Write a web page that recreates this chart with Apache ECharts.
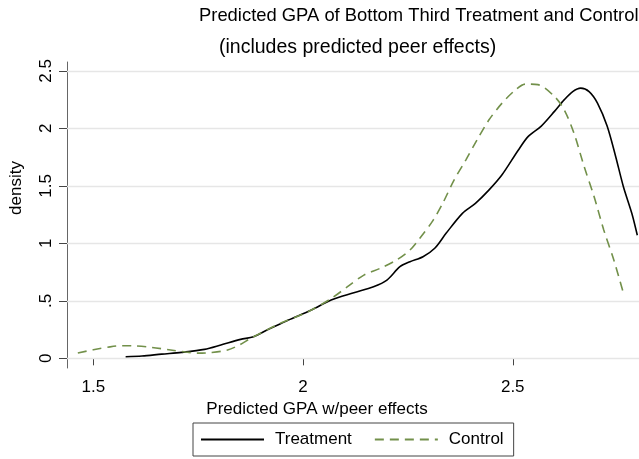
<!DOCTYPE html>
<html>
<head>
<meta charset="utf-8">
<script src="https://cdn.jsdelivr.net/npm/echarts@6/dist/echarts.min.js"></script>
<style>
html,body{margin:0;padding:0;background:#fff;}
#chart{width:639px;height:459px;}
</style>
</head>
<body>
<div id="chart"></div>
<script>
const titleText = 'Predicted GPA of Bottom Third Treatment and Control';
const subtitleText = '(includes predicted peer effects)';
const xAxisTitle = 'Predicted GPA w/peer effects';
const yAxisTitle = 'density';
const seriesNames = ['Treatment', 'Control'];
const xTicks = [1.5, 2, 2.5];
const yTicks = [0, 0.5, 1, 1.5, 2, 2.5];
const yTickLabels = ['0', '.5', '1', '1.5', '2', '2.5'];

const treatmentX = [1.577,1.616,1.663,1.71,1.765,1.804,1.851,1.882,1.914,1.945,1.965,2.02,2.067,2.121,2.168,2.2,2.231,2.255,2.286,2.314,2.341,2.38,2.411,2.443,2.474,2.513,2.537,2.568,2.6,2.623,2.643,2.662,2.682,2.702,2.725,2.745,2.764,2.784,2.797];
const treatmentY = [0.014,0.02,0.037,0.052,0.078,0.116,0.165,0.188,0.246,0.298,0.333,0.42,0.507,0.57,0.623,0.681,0.797,0.84,0.884,0.957,1.087,1.261,1.348,1.463,1.594,1.81,1.93,2.02,2.15,2.25,2.32,2.35,2.32,2.22,2.02,1.76,1.49,1.26,1.07];

const controlX = [1.463,1.5,1.54,1.569,1.6,1.64,1.68,1.72,1.75,1.78,1.82,1.85,1.875,1.91,1.945,1.965,2.012,2.067,2.106,2.145,2.184,2.223,2.255,2.278,2.31,2.333,2.36,2.388,2.415,2.443,2.474,2.505,2.53,2.56,2.6,2.623,2.646,2.67,2.694,2.717,2.741,2.764];
const controlY = [0.046,0.075,0.1,0.11,0.108,0.095,0.075,0.055,0.045,0.05,0.072,0.12,0.174,0.24,0.304,0.333,0.405,0.52,0.623,0.724,0.783,0.855,0.942,1.043,1.2,1.348,1.55,1.724,1.9,2.072,2.217,2.33,2.385,2.38,2.275,2.159,1.957,1.67,1.405,1.116,0.855,0.565];

const pairs = (xs, ys) => xs.map((x, i) => [x, ys[i]]);
const font = 'Liberation Sans, Arial, sans-serif';
const green = '#72904a';

const chart = echarts.init(document.getElementById('chart'), null, {renderer: 'canvas'});
chart.setOption({
  animation: false,
  backgroundColor: '#ffffff',
  textStyle: {fontFamily: font},
  title: [
    {text: titleText, left: 199, top: 7, padding: 0, textStyle: {fontSize: 18.4, fontWeight: 'normal', color: '#000', fontFamily: font}},
    {text: subtitleText, left: 219, top: 38, padding: 0, textStyle: {fontSize: 19.5, fontWeight: 'normal', color: '#000', fontFamily: font}}
  ],
  grid: {left: 59, right: 0, top: 62, bottom: 91, containLabel: false},
  legend: {
    data: seriesNames,
    left: 193, top: 423,
    orient: 'horizontal',
    itemWidth: 63, itemHeight: 14, itemGap: 22,
    padding: [8, 10, 8, 7],
    borderColor: '#444', borderWidth: 1, borderRadius: 0,
    itemStyle: {color: 'rgba(0,0,0,0)', borderColor: 'rgba(0,0,0,0)', borderWidth: 0},
    textStyle: {fontSize: 17, color: '#000', fontFamily: font, padding: [0, 0, 0, 6]}
  },
  xAxis: {
    type: 'value', min: 1.4372, max: 2.801,
    name: xAxisTitle, nameLocation: 'middle', nameGap: 27,
    nameTextStyle: {fontSize: 17, color: '#000', fontFamily: font, padding: [0, 72, 0, 0]},
    axisLine: {show: true, lineStyle: {color: '#444', width: 1}},
    axisTick: {show: true, customValues: xTicks, length: 7, lineStyle: {color: '#444'}},
    axisLabel: {customValues: xTicks, fontSize: 17, color: '#000', margin: 11, fontFamily: font,
      formatter: v => String(v)},
    splitLine: {show: false}
  },
  yAxis: {
    type: 'value', min: -0.084, max: 2.577,
    name: yAxisTitle, nameLocation: 'middle', nameGap: 42,
    nameTextStyle: {fontSize: 17, color: '#000', fontFamily: font, padding: [0, 0, 0, 54]},
    axisLine: {show: true, lineStyle: {color: '#666', width: 1}},
    axisTick: {show: true, customValues: yTicks, length: 8, lineStyle: {color: '#444'}},
    axisLabel: {customValues: yTicks, rotate: 90, fontSize: 17, color: '#000', margin: 12, fontFamily: font,
      formatter: v => yTickLabels[yTicks.indexOf(v)] !== undefined ? yTickLabels[yTicks.indexOf(v)] : ''},
    splitLine: {show: false}
  },
  series: [
    {
      name: seriesNames[0], type: 'line', data: pairs(treatmentX, treatmentY),
      smooth: 0.3, symbol: 'none', showSymbol: false, z: 3,
      lineStyle: {color: '#000', width: 1.6, type: 'solid'},
      itemStyle: {color: '#000'},
      markLine: {
        silent: true, symbol: ['none', 'none'], z: 1, animation: false,
        label: {show: false},
        lineStyle: {color: '#e6e6e6', type: 'solid', width: 1.3},
        data: yTicks.map(v => ({yAxis: v}))
      }
    },
    {
      name: seriesNames[1], type: 'line', data: pairs(controlX, controlY),
      smooth: 0.3, symbol: 'none', showSymbol: false, z: 3,
      lineStyle: {color: green, width: 1.6, type: [9, 6]},
      itemStyle: {color: green}
    }
  ]
});
</script>
</body>
</html>
